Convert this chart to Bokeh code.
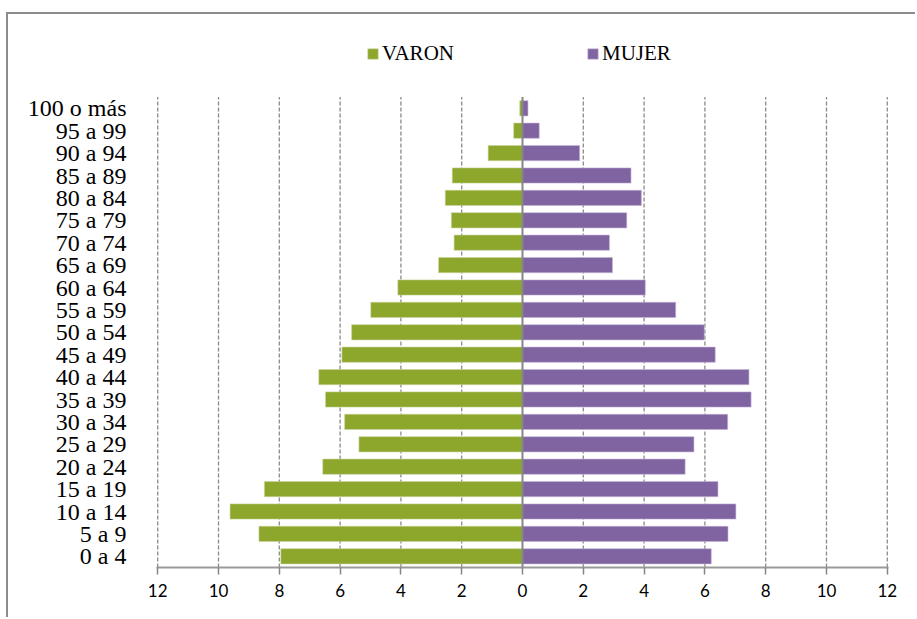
from bokeh.plotting import figure
from bokeh.models import (FixedTicker, Legend, LegendItem,
                          ColumnDataSource, Range1d)
from bokeh.embed import file_html
from bokeh.resources import INLINE

groups = ["0 a 4", "5 a 9", "10 a 14", "15 a 19", "20 a 24", "25 a 29", "30 a 34",
          "35 a 39", "40 a 44", "45 a 49", "50 a 54", "55 a 59", "60 a 64", "65 a 69",
          "70 a 74", "75 a 79", "80 a 84", "85 a 89", "90 a 94", "95 a 99", "100 o más"]
varon = [7.95, 8.67, 9.62, 8.49, 6.57, 5.38, 5.85, 6.48, 6.70, 5.94, 5.62, 4.99,
         4.10, 2.76, 2.25, 2.34, 2.54, 2.31, 1.13, 0.29, 0.09]
mujer = [6.21, 6.76, 7.02, 6.43, 5.35, 5.64, 6.75, 7.52, 7.45, 6.34, 5.98, 5.04,
         4.04, 2.96, 2.86, 3.43, 3.91, 3.57, 1.88, 0.55, 0.18]
x_ticks = [-12, -10, -8, -6, -4, -2, 0, 2, 4, 6, 8, 10, 12]

GREEN = "#8DA62C"
PURPLE = "#8064A2"
GRAY = "#8A8A8A"

n = len(groups)
ypos = list(range(n))
src = ColumnDataSource(dict(
    y=ypos,
    varon_left=[-v for v in varon],
    mujer=mujer,
))

border_css = (":host::after { content: ''; position: absolute; left: 6px; top: 12px; "
              "right: 0; bottom: 0; border-top: 2px solid #8c8c8c; "
              "border-left: 2px solid #8c8c8c; pointer-events: none; }"
              ":host { position: relative; }")

TOP = 20
BOTTOM = 567
band_px = 22.4
y_end = -0.5 + (BOTTOM - TOP) / band_px

p = figure(width=915, height=617, output_backend="svg", toolbar_location=None,
           y_range=Range1d(-0.5, y_end),
           x_range=Range1d(-12.04, 12.04),
           min_border_left=156, min_border_right=27,
           min_border_top=TOP, min_border_bottom=617 - BOTTOM)
p.stylesheets = [border_css]
p.outline_line_color = None
p.xgrid.grid_line_color = None
p.ygrid.grid_line_color = None

# dashed vertical grid lines limited to the category area
grid_ticks = [t for t in x_ticks if t != 0]
p.segment(x0=grid_ticks, y0=[-0.5] * len(grid_ticks),
          x1=grid_ticks, y1=[n - 0.5] * len(grid_ticks),
          line_color=GRAY, line_dash="4 2", line_width=1.3)

rv = p.hbar(y="y", left="varon_left", right=0, height=0.68, source=src,
            fill_color=GREEN, line_color="#c8d49a", line_width=0.6)
rm = p.hbar(y="y", left=0, right="mujer", height=0.68, source=src,
            fill_color=PURPLE, line_color="#c4b6d6", line_width=0.6)

# zero line
p.segment(x0=[0], y0=[-0.5], x1=[0], y1=[n - 0.5], line_color="#868686", line_width=2)

xa = p.xaxis[0]
xa.ticker = FixedTicker(ticks=x_ticks)
xa.major_label_overrides = {t: str(abs(t)) for t in x_ticks}
xa.axis_line_color = "#9a9a9a"
xa.axis_line_width = 2
xa.major_tick_line_color = "#868686"
xa.major_tick_line_width = 1.5
xa.major_tick_out = 7
xa.major_tick_in = 0
xa.minor_tick_line_color = None
xa.major_label_standoff = 9
xa.major_label_text_font = "Lato"
xa.major_label_text_font_size = "17px"
xa.major_label_text_color = "#000000"

ya = p.yaxis[0]
ya.ticker = FixedTicker(ticks=ypos)
ya.major_label_overrides = {i: g for i, g in zip(ypos, groups)}
ya.axis_line_color = None
ya.major_tick_line_color = None
ya.minor_tick_line_color = None
ya.major_label_standoff = 24
ya.major_label_text_font = "Liberation Serif"
ya.major_label_text_font_size = "24px"
ya.major_label_text_color = "#000000"

legend = Legend(items=[LegendItem(label="VARON", renderers=[rv]),
                       LegendItem(label="MUJER", renderers=[rm])],
                orientation="horizontal", location=(210, 501),
                glyph_width=13, glyph_height=13, label_standoff=3,
                spacing=132, padding=0, margin=0,
                border_line_color=None, background_fill_alpha=0,
                label_text_font="Liberation Serif", label_text_font_size="21px",
                label_text_color="#000000")
p.add_layout(legend, "center")

open("out.html", "w").write(file_html(p, INLINE))
